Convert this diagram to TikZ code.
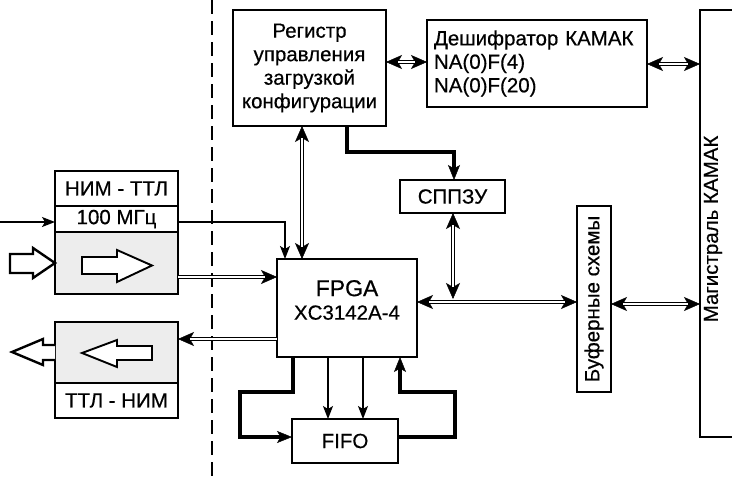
\documentclass[tikz,border=0pt]{standalone}
\usepackage{fontspec}
\setmainfont[FakeBold=0.5]{Liberation Sans}
\usetikzlibrary{arrows.meta}
\newcommand{\myfs}{\fontsize{20.5}{23.5}\selectfont}
\newcommand{\dblarr}[4]{\draw[dblo,#1] #2; \draw[dbli,shorten <=#3,shorten >=#4] #2;}
\begin{document}
\begin{tikzpicture}[x=1pt,y=-1pt,
  box/.style={draw, line width=1.4pt, inner sep=0pt, outer sep=0pt, font=\myfs},
  shade/.style={fill=gray!14},
  tipS/.tip={Stealth[length=13pt,width=10pt,inset=3pt]},
  tipT/.tip={Stealth[length=15pt,width=12pt,inset=3.5pt,line width=0.5pt]},
  tipD/.tip={Stealth[length=16pt,width=14pt,inset=4pt,line width=0.5pt]},
  thinln/.style={line width=1.3pt},
  thickln/.style={line width=3.2pt},
  dblo/.style={line width=4.8pt},
  dbli/.style={white, line width=1.5pt},
  blockarr/.style={draw, line width=2.4pt, line join=miter, fill=white},
  divider/.style={line width=1.8pt, dash pattern=on 14pt off 7pt}
]
\useasboundingbox (0,0) rectangle (732,477);

% divider
\draw[divider] (212,0) -- (212,477);

% boxes
\node[box, minimum width=153pt, minimum height=116pt, align=center] (reg) at (309.5,68)
  {Регистр\\управления\\загрузкой\\конфигурации};
\node[box, minimum width=220pt, minimum height=87pt, align=left, text width=206pt] (dec) at (537,63.5)
  {Дешифратор КАМАК\\NA(0)F(4)\\NA(0)F(20)};
\node[inner sep=0pt, outer sep=0pt, minimum width=32pt, minimum height=427pt] (mag) at (716,223.5) {};
\draw[line width=1.4pt] (mag.north east) -| (mag.south west) -- (mag.south east);
\node[font=\myfs, rotate=90] (magt) at (713,229) {Магистраль КАМАК};
\node[box, minimum width=105pt, minimum height=33pt] (sppzu) at (452.5,196.5) {СППЗУ};
\node[box, rotate=90, minimum width=186pt, minimum height=34pt] (buf) at (594,299) {Буферные схемы};
\node[box, minimum width=140pt, minimum height=98pt] (fpga) at (347,308) {};
\node[font=\myfs, align=center] (fpgat) at (347,300) {{\fontsize{23}{27}\selectfont FPGA}\\XC3142A-4};
\node[box, minimum width=106pt, minimum height=44pt] (fifo) at (345,441) {FIFO};

% NIM-TTL
\node[box, shade, minimum width=123pt, minimum height=62pt] (nt3) at (116.5,263) {};
\node[box, minimum width=123pt, minimum height=26pt] (nt2) at (116.5,219) {100 МГц};
\node[box, minimum width=123pt, minimum height=35pt] (nt1) at (116.5,188.5) {НИМ - ТТЛ};
% TTL-NIM
\node[box, shade, minimum width=123pt, minimum height=61pt] (tn1) at (116.5,352.5) {};
\node[box, minimum width=123pt, minimum height=35pt] (tn2) at (116.5,400.5) {ТТЛ - НИМ};

% block arrows
\draw[blockarr] (10,254) -- (33,254) -- (33,248) -- (nt3.west |- 0,263) -- (33,278) -- (33,273) -- (10,273) -- cycle;
\draw[blockarr, line width=1.9pt] (82,257) -- (117,257) -- (117,250) -- (152,265.5) -- (117,282) -- (117,274) -- (82,274) -- cycle;
\draw[blockarr] (tn1.west |- 0,345) -- (43,345) -- (43,339) -- (12,352) -- (43,365) -- (43,360) -- (tn1.west |- 0,360);
\draw[blockarr, line width=1.9pt] (152,346) -- (117,346) -- (117,340) -- (82,353) -- (117,367) -- (117,360) -- (152,360) -- cycle;

% thin lines
\coordinate (in1) at (0,222);
\draw[thinln, -tipS] (in1) -- (nt2.west |- in1);
\draw[thinln, -tipS] (nt2.east |- in1) -| (285,0 |- fpga.north);
\draw[thinln, -tipS] (328,0 |- fpga.south) -- (328,0 |- fifo.north);
\draw[thinln, -tipS] (363,0 |- fpga.south) -- (363,0 |- fifo.north);

% thick lines
\draw[thickln, -tipT] (347,0 |- reg.south) |- (454,152) -- (454,0 |- sppzu.north);
\draw[thickln, -tipT] (293,0 |- fpga.south) |- (240,392) |- (fifo.west |- 0,437);
\draw[thickln, -tipT] (fifo.east |- 0,437) -| (455,392) -| (400,0 |- fpga.south);

% double lines
\dblarr{tipD-tipD}{(reg.east |- 0,62) -- (dec.west |- 0,62)}{12pt}{12pt}
\dblarr{tipD-tipD}{(dec.east |- 0,64) -- (mag.west |- 0,64)}{12pt}{12pt}
\dblarr{tipD-tipD}{(302,0 |- reg.south) -- (302,0 |- fpga.north)}{12pt}{12pt}
\dblarr{tipD-tipD}{(fpga.east |- 0,302) -- (577,302)}{12pt}{12pt}
\dblarr{tipD-tipD}{(611,304) -- (mag.west |- 0,304)}{12pt}{12pt}
\coordinate (busj) at (453,299);
\dblarr{tipD-tipD}{(453,0 |- sppzu.south) -- (busj)}{12pt}{12pt}
\dblarr{-tipD}{(nt3.east |- 0,277) -- (fpga.west |- 0,277)}{0pt}{12pt}
\dblarr{-tipD}{(fpga.west |- 0,339) -- (tn1.east |- 0,339)}{0pt}{12pt}
\end{tikzpicture}
\end{document}
